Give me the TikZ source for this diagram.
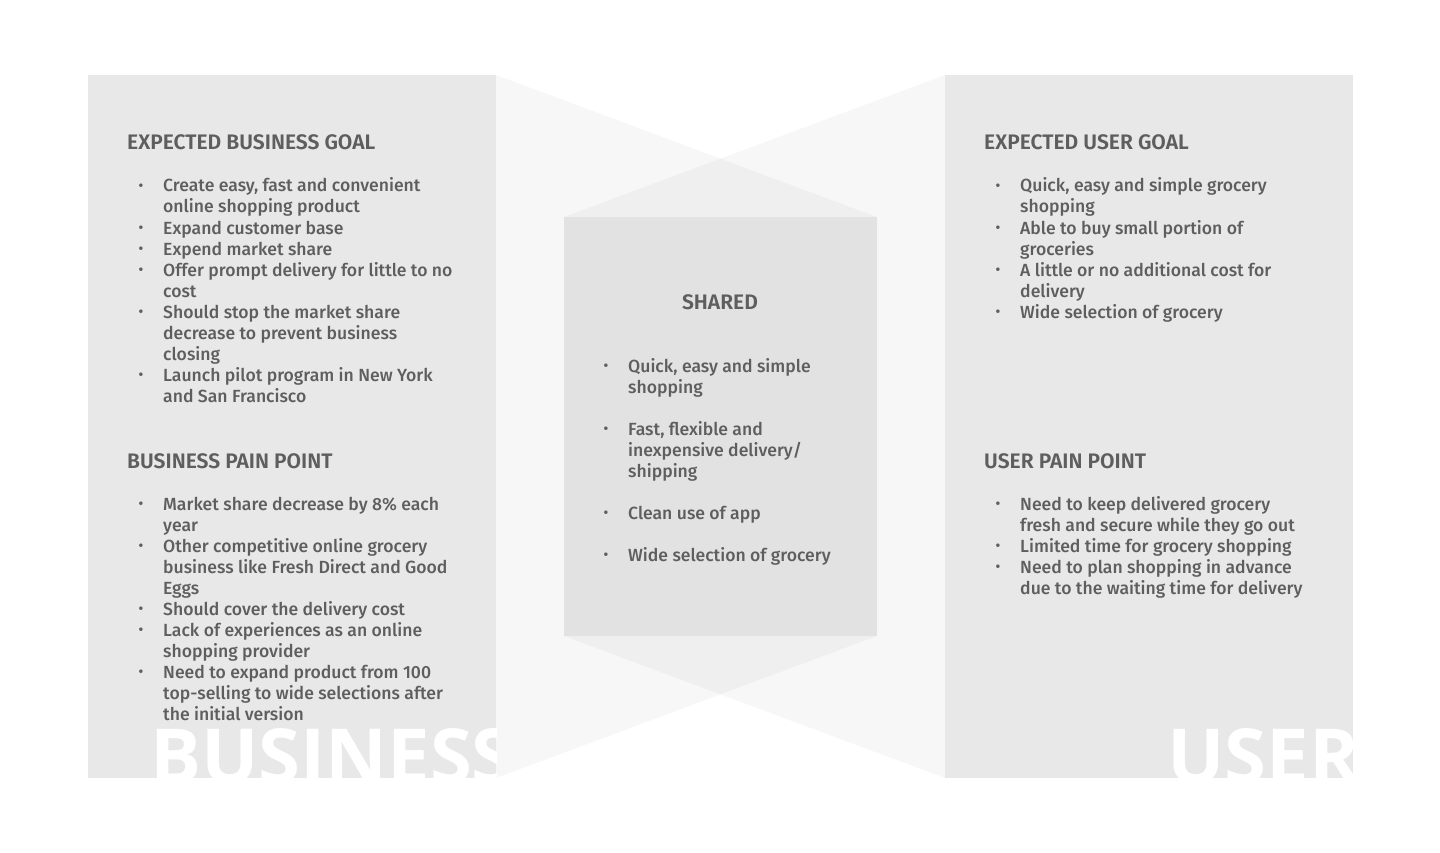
\documentclass[tikz,border=0pt]{standalone}
\usepackage{fontspec}
\IfFontExistsTF{Fira Sans Medium}{%
  \IfFontExistsTF{Fira Sans SemiBold}{%
    \setmainfont{Fira Sans}[UprightFont={Fira Sans Medium},BoldFont={Fira Sans SemiBold}]}{%
    \setmainfont{Fira Sans}[UprightFont={Fira Sans Medium}]}}{%
  \setmainfont{Fira Sans}}
\newfontfamily\wmfont{Open Sans}
\definecolor{txtgray}{HTML}{5E5E5E}
\definecolor{panelgray}{HTML}{E8E8E8}
\definecolor{centergray}{HTML}{E2E2E2}
\tikzset{
  txt/.style={inner sep=0pt, anchor=base west, text=txtgray, font=\fontsize{17.6}{21}\selectfont},
  hd/.style={txt, font=\fontsize{21}{21}\selectfont\bfseries},
  bul/.style={inner sep=0pt, anchor=center, text=txtgray, font=\fontsize{14}{14}\selectfont},
  wm/.style={inner sep=0pt, anchor=base west, text=white, font=\wmfont\bfseries\fontsize{76}{80}\selectfont},
  panel/.style={fill=panelgray},
  centerbox/.style={fill=centergray},
  wing/.style={fill=black, fill opacity=0.03},
}
\newcommand\blist[4]{%
  \foreach \f/\t [count=\i from 0] in {#4} {
    \node[txt] (#1\i) at (#2, #3+21*\i) {\t};
    \ifnum\f=1 \node[bul] (#1b\i) at (#2-22, #3+21*\i-5) {•};\fi
  }}
\begin{document}
\begin{tikzpicture}[x=1pt, y=-1pt]
\useasboundingbox (0,0) rectangle (1440,853);
% wings
\fill[wing] (496,75) -- (877,217) -- (877,636) -- (496,778) -- cycle;
\fill[wing] (945,75) -- (564,217) -- (564,636) -- (945,778) -- cycle;
% panels
\fill[panel] (88,75) rectangle (496,778);
\fill[panel] (945,75) rectangle (1353,778);
\fill[centerbox] (564,217) rectangle (877,636);
% watermarks
\begin{scope}
  \clip (88,75) rectangle (496,778);
  \node[wm] (wmbiz) at (150,783) {BUSINESS};
\end{scope}
\begin{scope}
  \clip (945,75) rectangle (1353,778);
  \node[wm] (wmuser) at (1167,783) {USER};
\end{scope}
% left column
\node[hd] (hbg) at (127,150) {EXPECTED BUSINESS GOAL};
\blist{bg}{163}{192}{1/{Create easy, fast and convenient}, 0/{online shopping product},
  1/{Expand customer base}, 1/{Expend market share},
  1/{Offer prompt delivery for little to no}, 0/{cost},
  1/{Should stop the market share}, 0/{decrease to prevent business}, 0/{closing},
  1/{Launch pilot program in New York}, 0/{and San Francisco}}
\node[hd] (hbp) at (127,468) {BUSINESS PAIN POINT};
\blist{bp}{163}{510}{1/{Market share decrease by 8\% each}, 0/{year},
  1/{Other competitive online grocery}, 0/{business like Fresh Direct and Good}, 0/{Eggs},
  1/{Should cover the delivery cost},
  1/{Lack of experiences as an online}, 0/{shopping provider},
  1/{Need to expand product from 100}, 0/{top-selling to wide selections after}, 0/{the initial version}}
% center
\node[hd, anchor=base] (hsh) at (720,309) {SHARED};
\blist{sh}{628}{372}{1/{Quick, easy and simple}, 0/{shopping}, 0/{},
  1/{Fast, flexible and}, 0/{inexpensive delivery/}, 0/{shipping}, 0/{},
  1/{Clean use of app}, 0/{},
  1/{Wide selection of grocery}}
% right column
\node[hd] (hug) at (984,150) {EXPECTED USER GOAL};
\blist{ug}{1020}{192}{1/{Quick, easy and simple grocery}, 0/{shopping},
  1/{Able to buy small portion of}, 0/{groceries},
  1/{A little or no additional cost for}, 0/{delivery},
  1/{Wide selection of grocery}}
\node[hd] (hup) at (984,468) {USER PAIN POINT};
\blist{up}{1020}{510}{1/{Need to keep delivered grocery}, 0/{fresh and secure while they go out},
  1/{Limited time for grocery shopping},
  1/{Need to plan shopping in advance}, 0/{due to the waiting time for delivery}}
\end{tikzpicture}
\end{document}
